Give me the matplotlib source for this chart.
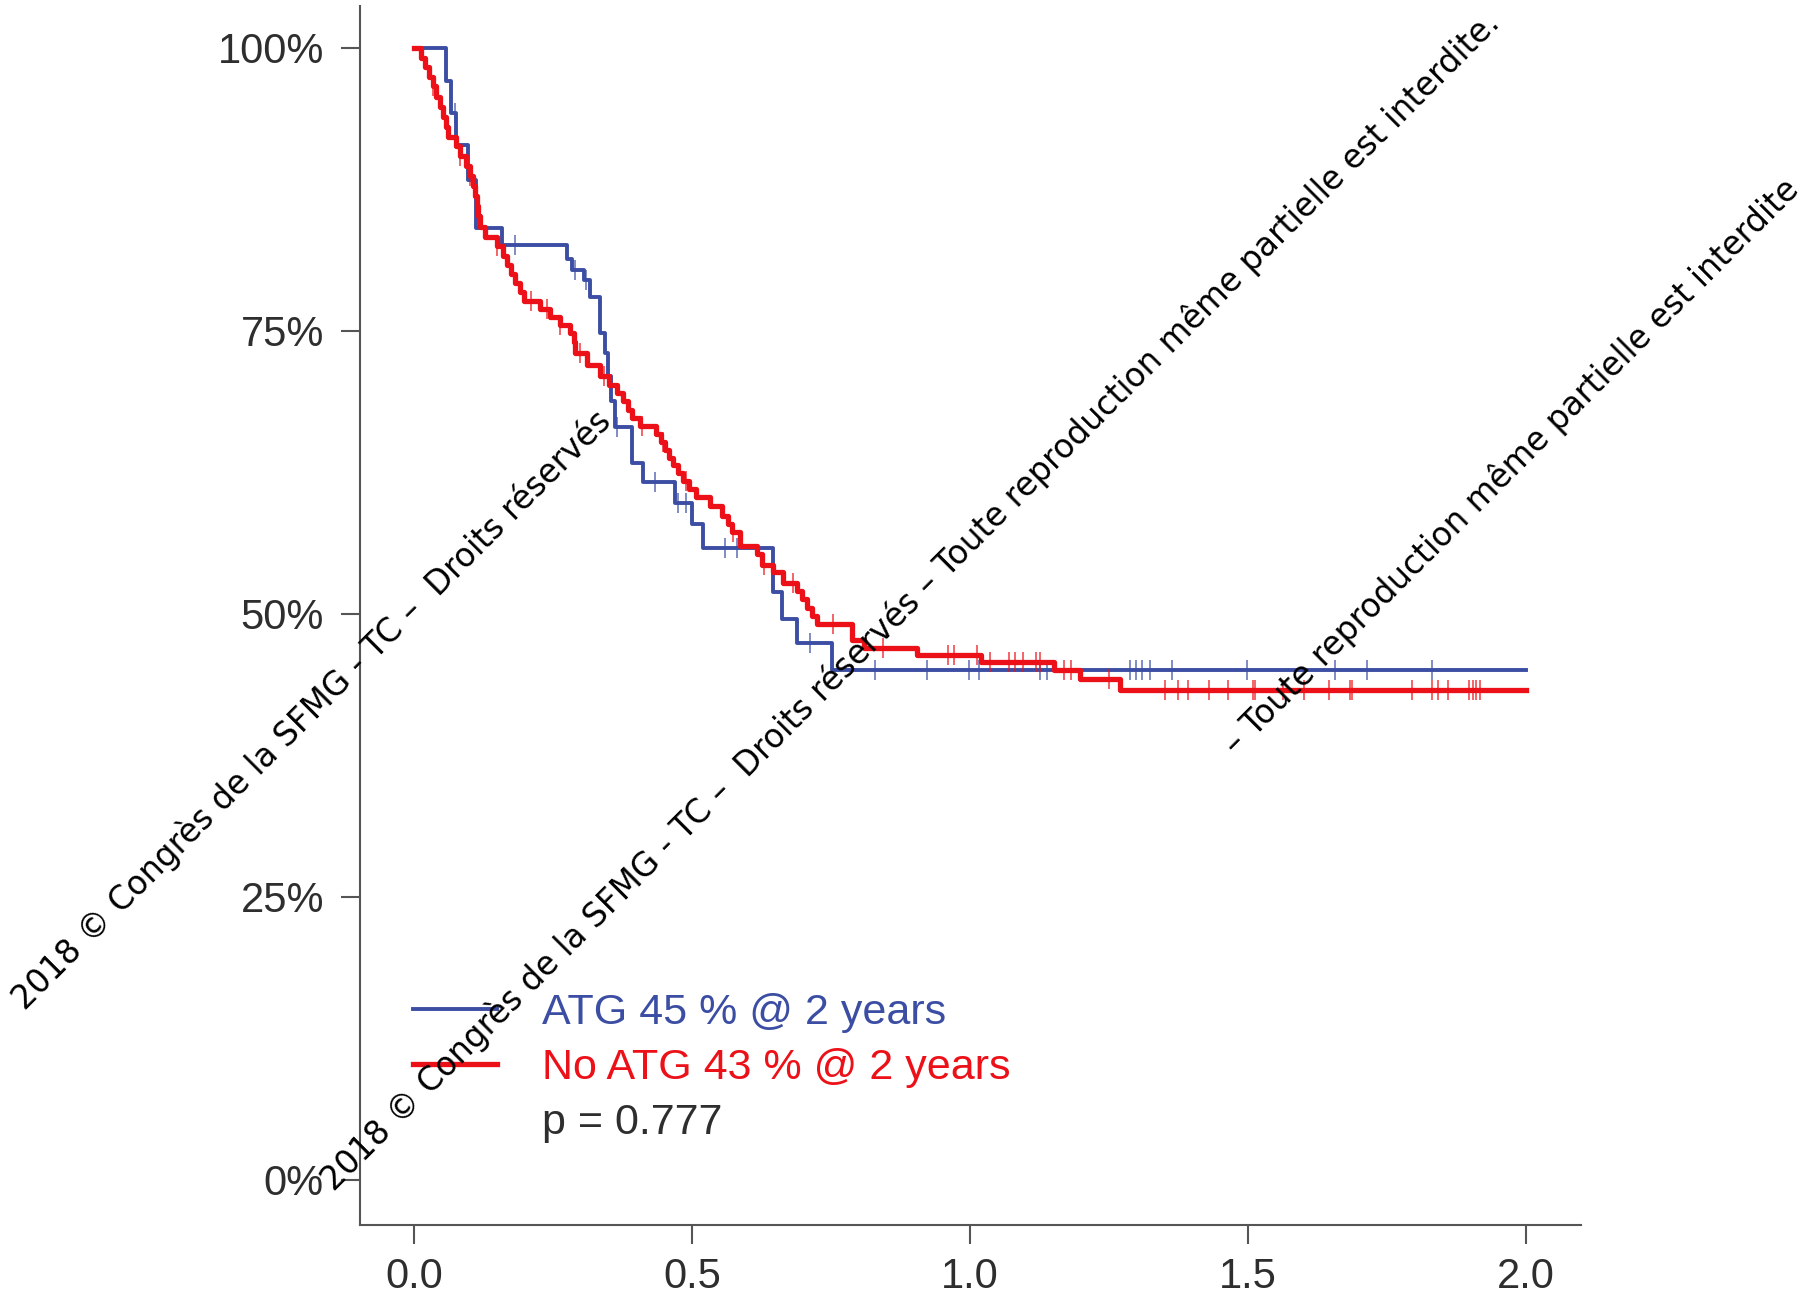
import numpy as np
import matplotlib.pyplot as plt
from matplotlib.lines import Line2D
from matplotlib.ticker import PercentFormatter

# ATG arm: step times (years) and survival after each step
atg_time = [0.0, 0.058, 0.066, 0.075, 0.097, 0.112, 0.158, 0.275, 0.284, 0.305,
            0.317, 0.335, 0.343, 0.349, 0.355, 0.362, 0.392, 0.412, 0.469, 0.500,
            0.520, 0.646, 0.661, 0.689, 0.752, 2.0]
atg_surv = [1.0, 0.971, 0.942, 0.914, 0.883, 0.841, 0.826, 0.813, 0.804, 0.795,
            0.780, 0.748, 0.730, 0.710, 0.688, 0.665, 0.633, 0.616, 0.598, 0.579,
            0.558, 0.519, 0.495, 0.474, 0.450, 0.450]
atg_censor = [0.073, 0.182, 0.290, 0.310, 0.365, 0.434, 0.475, 0.490, 0.559, 0.580,
              0.712, 0.829, 0.923, 0.998, 1.016, 1.126, 1.139, 1.288, 1.299, 1.310,
              1.323, 1.363, 1.498, 1.656, 1.714, 1.831]

# No ATG arm
noatg_time = [0.0, 0.012, 0.020, 0.027, 0.034, 0.040, 0.047, 0.052, 0.057, 0.062,
              0.075, 0.083, 0.093, 0.100, 0.106, 0.110, 0.113, 0.115, 0.118, 0.128,
              0.149, 0.160, 0.167, 0.175, 0.182, 0.190, 0.197, 0.227, 0.245, 0.263,
              0.281, 0.287, 0.290, 0.311, 0.335, 0.350, 0.365, 0.376, 0.385, 0.392,
              0.406, 0.436, 0.445, 0.451, 0.458, 0.466, 0.475, 0.484, 0.495, 0.508,
              0.532, 0.553, 0.565, 0.571, 0.586, 0.616, 0.625, 0.646, 0.664, 0.688,
              0.698, 0.706, 0.715, 0.724, 0.787, 0.810, 0.905, 1.020, 1.150, 1.198,
              1.270, 2.0]
noatg_surv = [1.0, 0.991, 0.983, 0.974, 0.966, 0.957, 0.948, 0.939, 0.930, 0.921,
              0.913, 0.904, 0.896, 0.887, 0.878, 0.869, 0.860, 0.851, 0.842, 0.833,
              0.825, 0.816, 0.808, 0.800, 0.792, 0.784, 0.776, 0.769, 0.762, 0.755,
              0.748, 0.740, 0.730, 0.720, 0.710, 0.702, 0.695, 0.688, 0.680, 0.673,
              0.666, 0.659, 0.652, 0.645, 0.638, 0.631, 0.624, 0.617, 0.610, 0.603,
              0.595, 0.586, 0.579, 0.572, 0.560, 0.553, 0.543, 0.537, 0.527, 0.520,
              0.513, 0.505, 0.498, 0.491, 0.477, 0.470, 0.464, 0.457, 0.450, 0.442,
              0.433, 0.433]
noatg_censor = [0.034, 0.055, 0.083, 0.100, 0.149, 0.210, 0.240, 0.263, 0.299, 0.341,
                0.410, 0.448, 0.490, 0.574, 0.630, 0.682, 0.754, 0.843, 0.960, 0.971,
                1.013, 1.036, 1.070, 1.081, 1.095, 1.119, 1.126, 1.168, 1.182, 1.250,
                1.350, 1.374, 1.391, 1.429, 1.463, 1.508, 1.512, 1.563, 1.601, 1.646,
                1.683, 1.687, 1.794, 1.830, 1.842, 1.859, 1.897, 1.904, 1.910, 1.917]

labels = ['ATG 45 % @ 2 years', 'No ATG 43 % @ 2 years', 'p = 0.777']
x_ticks = [0.0, 0.5, 1.0, 1.5, 2.0]
y_ticks = [0.0, 0.25, 0.5, 0.75, 1.0]

watermark_short = '2018 © Congrès de la SFMG - TC \u2013  Droits réservés'
watermark_long = ('2018 © Congrès de la SFMG - TC \u2013  Droits réservés \u2013 '
                  'Toute reproduction même partielle est interdite.')
watermark_tail = '\u2013 Toute reproduction même partielle est interdite'

BLUE = '#3c4ea3'
RED = '#ec1118'
DARK = '#2e2e2e'


def surv_at(times, surv, t):
    """Value of the step curve at time t"""
    idx = np.searchsorted(times, t, side='right') - 1
    return np.asarray(surv)[idx]


plt.rcParams['font.family'] = ['Liberation Sans', 'DejaVu Sans']

fig = plt.figure(figsize=(18.03, 12.96), dpi=100)
ax = fig.add_axes([0.1997, 0.0548, 0.6773, 0.9406])

ax.step(atg_time, atg_surv, where='post', color=BLUE, lw=2.8)
ax.plot(atg_censor, surv_at(atg_time, atg_surv, atg_censor), ls='none',
        marker='|', ms=14, mew=1.3, color=BLUE, alpha=0.7)

ax.step(noatg_time, noatg_surv, where='post', color=RED, lw=3.8)
ax.plot(noatg_censor, surv_at(noatg_time, noatg_surv, noatg_censor), ls='none',
        marker='|', ms=14, mew=1.3, color=RED, alpha=0.7)

ax.set_xlim(-0.097, 2.099)
ax.set_ylim(-0.04, 1.037)
ax.set_xticks(x_ticks)
ax.set_xticklabels([f'{v:.1f}' for v in x_ticks])
ax.set_yticks(y_ticks)
ax.yaxis.set_major_formatter(PercentFormatter(1.0, decimals=0))

for side in ['top', 'right']:
    ax.spines[side].set_visible(False)
for side in ['left', 'bottom']:
    ax.spines[side].set_color('#555555')
    ax.spines[side].set_linewidth(1.5)
ax.tick_params(axis='both', length=14, width=1.5, color='#555555',
               labelsize=30, labelcolor=DARK)
ax.tick_params(axis='y', pad=12)
ax.tick_params(axis='x', pad=9)

handles = [Line2D([], [], color=BLUE, lw=2.8),
           Line2D([], [], color=RED, lw=3.8),
           Line2D([], [], color='none')]
ax.legend(handles, labels, loc='lower left', bbox_to_anchor=(0.043, 0.067),
          frameon=False, fontsize=31, handlelength=1.95, handletextpad=1.05,
          labelspacing=0.35, borderpad=0, borderaxespad=0,
          labelcolor=[BLUE, RED, DARK])

# copyright watermarks across the figure
wm = dict(rotation=45, rotation_mode='anchor', ha='center', va='center',
          fontsize=23.5, color='black', family='DejaVu Sans')
fig.text(0.173, 0.452, watermark_short, **wm)
fig.text(0.505, 0.536, watermark_long, **wm)
fig.text(0.838, 0.640, watermark_tail, **wm)

fig.savefig('out.png', dpi=100)
